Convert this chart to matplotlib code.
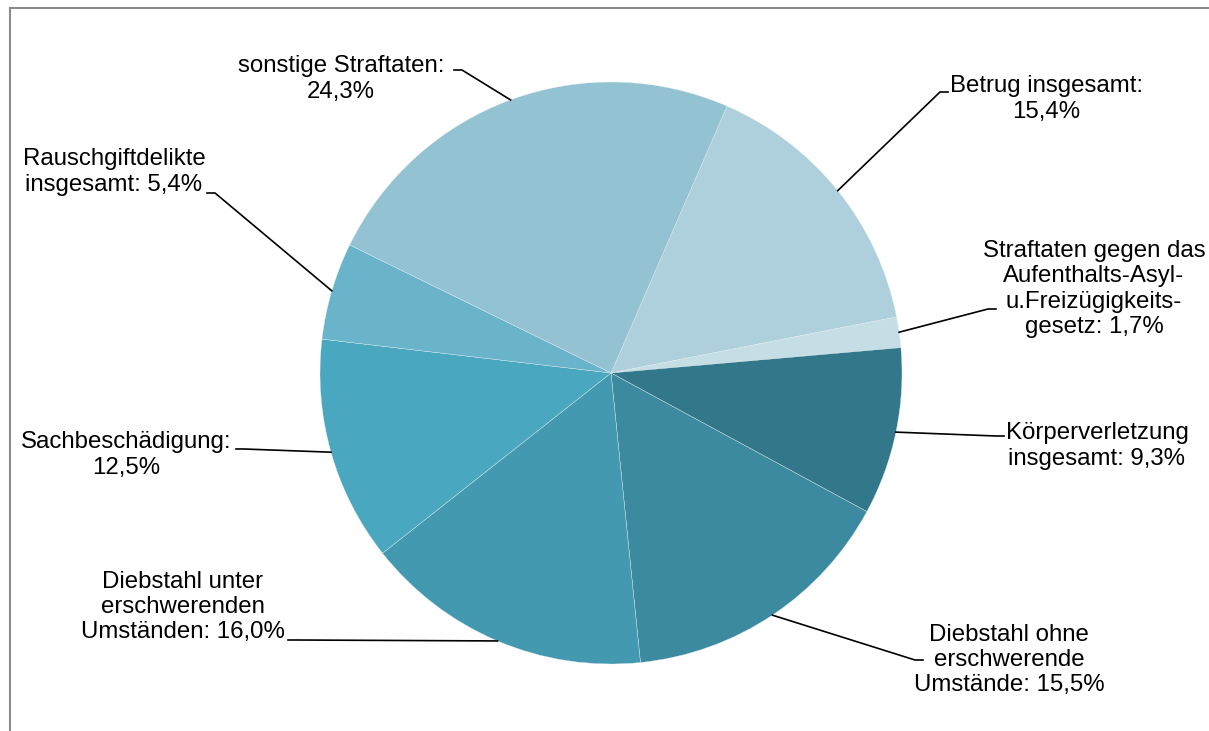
import numpy as np
import matplotlib.pyplot as plt
from matplotlib.patches import Rectangle

plt.rcParams['font.family'] = ['Liberation Sans', 'DejaVu Sans']

# Anteile der Straftaten (im Uhrzeigersinn, beginnend mit Betrug)
labels = [
    "Betrug insgesamt:\n15,4%",
    "Straftaten gegen das\nAufenthalts-Asyl-\nu.Freizügigkeits-\ngesetz: 1,7%",
    "Körperverletzung\ninsgesamt: 9,3%",
    "Diebstahl ohne\nerschwerende\nUmstände: 15,5%",
    "Diebstahl unter\nerschwerenden\nUmständen: 16,0%",
    "Sachbeschädigung:\n12,5%",
    "Rauschgiftdelikte\ninsgesamt: 5,4%",
    "sonstige Straftaten:\n24,3%",
]
shares = [15.4, 1.7, 9.3, 15.5, 16.0, 12.5, 5.4, 24.3]
colors = ["#add0dc", "#c5dde5", "#33778a", "#3c8a9f",
          "#4399b0", "#49a7c0", "#69b3cb", "#93c2d3"]

W, H = 1209, 731
CX, CY, R = 611, 373, 291  # pie centre / radius in pixels


def px(x, y):
    # pixel position -> data coords (pie radius = 1)
    return (x - CX) / R, (CY - y) / R


# label centre, elbow of leader line, side the text sits on
label_layout = [
    ((1046, 99), (940, 92), 'left'),
    ((1094, 289), (988, 309), 'left'),
    ((1097, 446), (996, 436), 'left'),
    ((1009, 660), (915, 660), 'left'),
    ((183, 607), (296, 640), 'right'),
    ((126, 455), (244, 449), 'right'),
    ((114, 172), (215, 193), 'right'),
    ((341, 79), (462, 70), 'right'),
]

fig = plt.figure(figsize=(W / 100, H / 100), dpi=100)
ax = fig.add_axes([0, 0, 1, 1])

wedges, _ = ax.pie(shares, colors=colors, startangle=66.5, counterclock=False,
                   radius=1, center=(0, 0), frame=True,
                   wedgeprops=dict(edgecolor='#e4eff3', linewidth=0.25))
ax.set_xlim(-CX / R, (W - CX) / R)
ax.set_ylim(-(H - CY) / R, CY / R)
ax.set_aspect('equal')
ax.axis('off')

for w, text, (lpos, elbow, side) in zip(wedges, labels, label_layout):
    mid = np.deg2rad((w.theta1 + w.theta2) / 2)
    x0, y0 = np.cos(mid), np.sin(mid)
    ex, ey = px(*elbow)
    hx = ex + (8 / R if side == 'left' else -8 / R)
    ax.plot([x0, ex, hx], [y0, ey, ey], color='black', lw=1.2,
            solid_joinstyle='miter')
    tx, ty = px(*lpos)
    ax.text(tx, ty, text, ha='center', va='center', fontsize=17.3,
            linespacing=1.2, color='black')

# Rahmen des Diagrammbereichs
fig.patches.append(Rectangle((10 / W, -0.1), 1.2, 1.1 - 8 / H,
                             transform=fig.transFigure, fill=False,
                             edgecolor='#8c8c8c', linewidth=1.5))

fig.savefig('out.png', dpi=100)
